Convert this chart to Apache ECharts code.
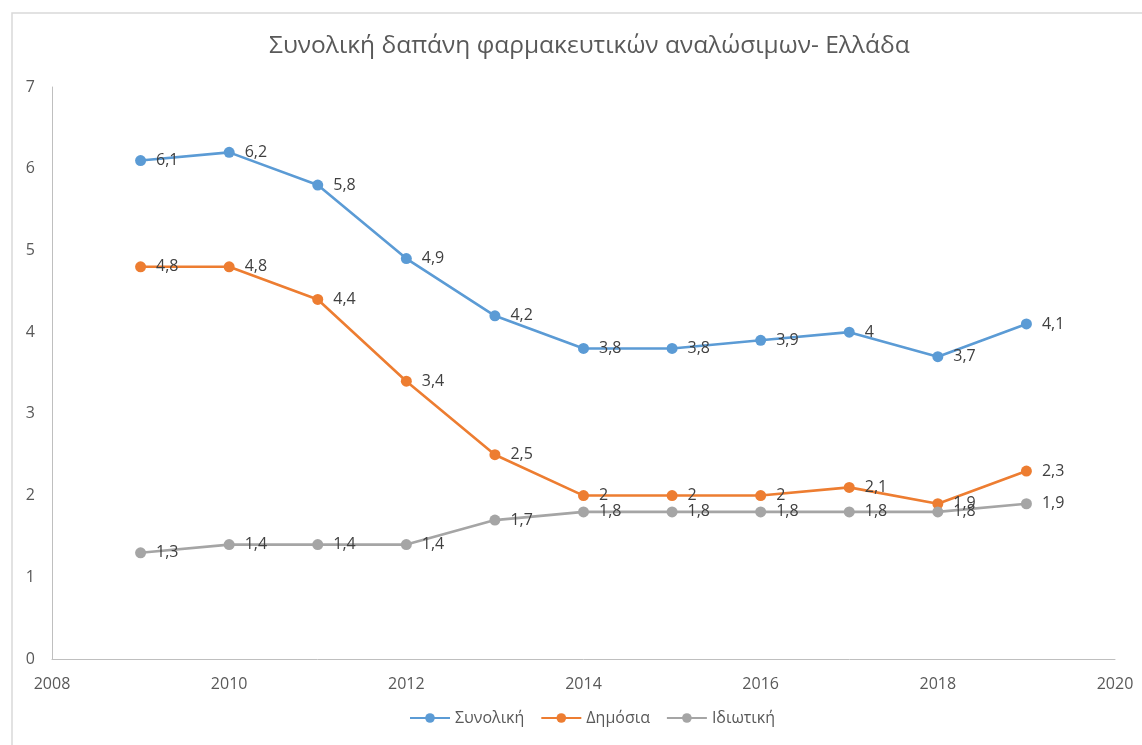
<!DOCTYPE html>
<html>
<head>
<meta charset="utf-8">
<script src="https://cdn.jsdelivr.net/npm/echarts@6/dist/echarts.min.js"></script>
<style>
  html, body { margin: 0; padding: 0; background: #fff; }
  #chart { width: 1142px; height: 745px; }
</style>
</head>
<body>
<div id="chart"></div>
<script>
// έτη και τιμές
const years = [2009, 2010, 2011, 2012, 2013, 2014, 2015, 2016, 2017, 2018, 2019]
const total = [6.1, 6.2, 5.8, 4.9, 4.2, 3.8, 3.8, 3.9, 4, 3.7, 4.1]
const publicExp = [4.8, 4.8, 4.4, 3.4, 2.5, 2, 2, 2, 2.1, 1.9, 2.3]
const privateExp = [1.3, 1.4, 1.4, 1.4, 1.7, 1.8, 1.8, 1.8, 1.8, 1.8, 1.9]
const names = ['Συνολική', 'Δημόσια', 'Ιδιωτική']
const colors = ['#5b9bd5', '#ed7d31', '#a5a5a5']

const font = '"Open Sans", "Noto Sans", sans-serif'

;(function () {
  let myChart = echarts.init(document.getElementById('chart'))

  let makeSeries = function (name, values, color) {
    return {
      name: name,
      type: 'line',
      data: years.map((y, i) => [y, values[i]]),
      symbol: 'circle',
      symbolSize: 11,
      itemStyle: { color: color },
      lineStyle: { width: 2.6, color: color },
      label: {
        show: true,
        position: 'right',
        distance: 10,
        color: '#404040',
        fontSize: 16,
        fontFamily: font,
        formatter: p => String(p.value[1]).replace('.', ',')
      }
    }
  }

  let option = {
    animation: false,
    textStyle: { fontFamily: font },
    title: {
      text: 'Συνολική δαπάνη φαρμακευτικών αναλώσιμων- Ελλάδα',
      left: 264,
      top: 29,
      textStyle: { color: '#595959', fontSize: 24.5, fontWeight: 'normal', fontFamily: font }
    },
    graphic: [{
      type: 'rect',
      shape: { x: 12, y: 13, width: 1160, height: 760 },
      style: { fill: 'none', stroke: '#d9d9d9', lineWidth: 1.5 },
      silent: true
    }],
    legend: {
      bottom: 14,
      left: 404,
      itemWidth: 40,
      itemHeight: 12,
      itemGap: 16,
      textStyle: { color: '#595959', fontSize: 16, fontFamily: font },
      data: names
    },
    grid: { left: 52, right: 27, top: 87, bottom: 86 },
    xAxis: {
      type: 'value',
      min: 2008,
      max: 2020,
      interval: 2,
      axisLine: { show: true, onZero: false, lineStyle: { color: '#bfbfbf', width: 1 } },
      axisTick: { show: false },
      splitLine: { show: false },
      axisLabel: { color: '#595959', fontSize: 16, margin: 17, formatter: v => String(v) }
    },
    yAxis: {
      type: 'value',
      min: 0,
      max: 7,
      interval: 1,
      axisLine: { show: true, lineStyle: { color: '#bfbfbf', width: 1 } },
      axisTick: { show: false },
      splitLine: { show: false },
      axisLabel: { color: '#595959', fontSize: 16, margin: 17 }
    },
    series: [
      makeSeries(names[0], total, colors[0]),
      makeSeries(names[1], publicExp, colors[1]),
      makeSeries(names[2], privateExp, colors[2])
    ]
  }
  myChart.setOption(option)
})()
</script>
</body>
</html>
